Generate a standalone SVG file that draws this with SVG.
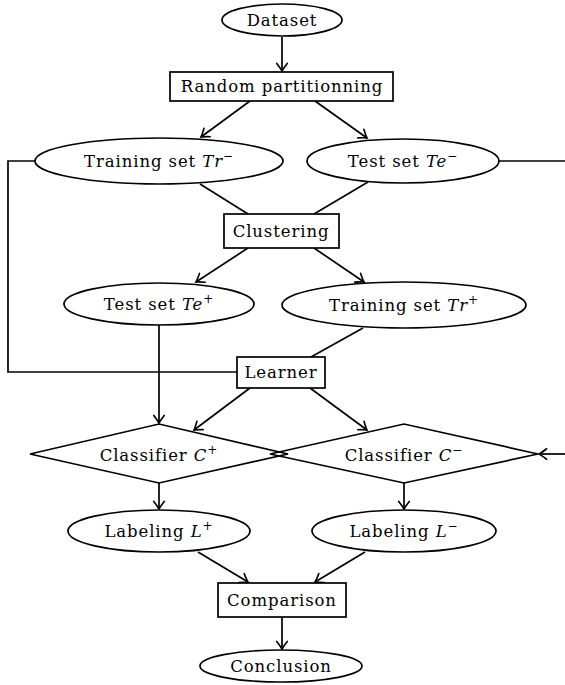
<svg xmlns="http://www.w3.org/2000/svg" width="565" height="685" viewBox="0 0 565 685">
<defs>
<marker id="arr" markerUnits="userSpaceOnUse" markerWidth="14" markerHeight="14" viewBox="-8 -6 10 12" refX="0" refY="0" orient="auto">
<path d="M -6.5 -4.5 Q -2 -1 0 0 Q -2 1 -6.5 4.5" fill="none" stroke="#000" stroke-width="1.4" stroke-linecap="round"/>
</marker>
<style>
ellipse, rect { fill: #fff; stroke: #000; stroke-width: 1.7; }
polygon { fill: none; stroke: #000; stroke-width: 1.7; }
.c line, .c polyline { stroke: #000; stroke-width: 1.7; fill: none; }
.a { marker-end: url(#arr); }
text { font-family: "DejaVu Serif", "Liberation Serif", serif; font-size: 16.5px; letter-spacing: 0.9px; text-anchor: middle; fill: #000; }
.m { font-style: italic; }
.s { font-size: 12px; }
</style>
</defs>
<g class="c" id="connectors">
<line class="a" x1="282" y1="37" x2="282" y2="71"/>
<line class="a" x1="250" y1="101" x2="201" y2="137"/>
<line class="a" x1="315" y1="101" x2="367" y2="138"/>
<line x1="200" y1="184" x2="248" y2="214"/>
<line x1="368" y1="182" x2="314" y2="214"/>
<line class="a" x1="248" y1="248" x2="196" y2="282"/>
<line class="a" x1="314" y1="248" x2="364" y2="282"/>
<line class="a" x1="159" y1="325" x2="159" y2="423"/>
<line x1="363" y1="328" x2="311" y2="357"/>
<polyline points="35,161 8,161 8,372 237,372"/>
<line x1="499" y1="161" x2="566" y2="161"/>
<line class="a" x1="566" y1="454" x2="539" y2="454"/>
<line class="a" x1="250" y1="388" x2="194" y2="430"/>
<line class="a" x1="310" y1="388" x2="367" y2="430"/>
<line class="a" x1="159" y1="483" x2="159" y2="509"/>
<line class="a" x1="404" y1="483" x2="404" y2="509"/>
<line class="a" x1="198" y1="552" x2="248" y2="582"/>
<line class="a" x1="365" y1="552" x2="315" y2="582"/>
<line class="a" x1="282" y1="617" x2="282" y2="649"/>
</g>
<g id="dataset"><ellipse cx="282" cy="20" rx="60" ry="16"/><text x="282" y="26">Dataset</text></g>
<g id="random"><rect x="170" y="72" width="223" height="29"/><text x="282" y="92">Random partitionning</text></g>
<g id="trminus"><ellipse cx="159" cy="161" rx="124" ry="23"/><text x="159" y="167">Training set <tspan class="m">Tr</tspan><tspan class="s" dy="-7">−</tspan></text></g>
<g id="teminus"><ellipse cx="403" cy="161" rx="96" ry="22"/><text x="403" y="167">Test set <tspan class="m">Te</tspan><tspan class="s" dy="-7">−</tspan></text></g>
<g id="clustering"><rect x="224" y="214" width="115" height="34"/><text x="281" y="237">Clustering</text></g>
<g id="teplus"><ellipse cx="159" cy="304" rx="95" ry="21"/><text x="159" y="310">Test set <tspan class="m">Te</tspan><tspan class="s" dy="-7">+</tspan></text></g>
<g id="trplus"><ellipse cx="404" cy="305" rx="122" ry="23"/><text x="404" y="311">Training set <tspan class="m">Tr</tspan><tspan class="s" dy="-7">+</tspan></text></g>
<g id="learner"><rect x="237" y="357" width="88" height="31"/><text x="281" y="378">Learner</text></g>
<g id="cplus"><polygon points="30,454 159,424 288,454 159,483"/><text x="159" y="461">Classifier <tspan class="m">C</tspan><tspan class="s" dy="-7">+</tspan></text></g>
<g id="cminus"><polygon points="270,454 404,424 538,454 404,483"/><text x="404" y="461">Classifier <tspan class="m">C</tspan><tspan class="s" dy="-7">−</tspan></text></g>
<g id="lplus"><ellipse cx="159" cy="531" rx="91" ry="21"/><text x="159" y="537">Labeling <tspan class="m">L</tspan><tspan class="s" dy="-7">+</tspan></text></g>
<g id="lminus"><ellipse cx="404" cy="531" rx="92" ry="21"/><text x="404" y="537">Labeling <tspan class="m">L</tspan><tspan class="s" dy="-7">−</tspan></text></g>
<g id="comparison"><rect x="218" y="583" width="128" height="34"/><text x="282" y="606">Comparison</text></g>
<g id="conclusion"><ellipse cx="281" cy="666" rx="81" ry="16"/><text x="281" y="672">Conclusion</text></g>
</svg>
